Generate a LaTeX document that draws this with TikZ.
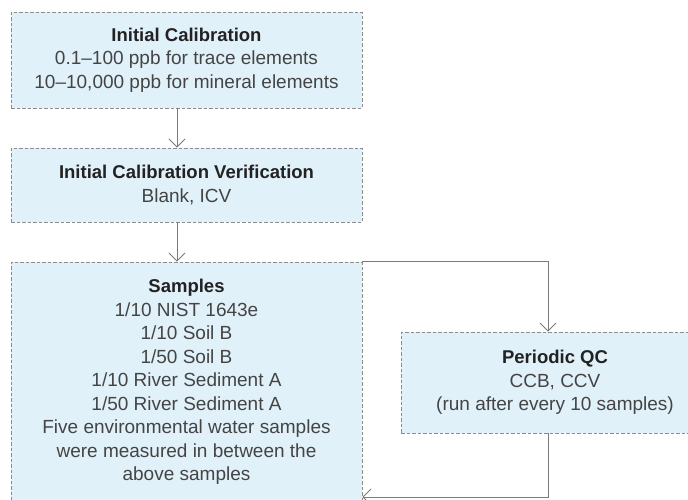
\documentclass[tikz,border=0pt]{standalone}
\usepackage{fontspec}
\setmainfont{Liberation Sans}
\usetikzlibrary{arrows.meta}
\definecolor{boxfill}{HTML}{E1F1FA}
\definecolor{boxline}{HTML}{8C8C8C}
\definecolor{lnk}{HTML}{7A7A7A}
\definecolor{txt}{HTML}{444444}
\definecolor{ttl}{HTML}{222222}
\newcommand{\hdr}[1]{{\color{ttl}\fontsize{18.5}{23.5}\selectfont\bfseries #1}}
\begin{document}
\begin{tikzpicture}[x=1pt,y=-1pt,
  qbox/.style={draw=boxline, fill=boxfill, dash pattern=on 3.5pt off 2pt, line width=0.9pt,
    inner sep=0pt, align=center, text=txt, font=\fontsize{19}{23.5}\selectfont},
  link/.style={draw=lnk, line width=0.9pt, -{Straight Barb[length=8pt,width=16pt,line width=0.9pt]}}]
\useasboundingbox (0,0) rectangle (688,499);
\clip (0,0) rectangle (688,499);
\node[qbox, minimum width=351, minimum height=96] (cal) at (186.5,60)
  {\hdr{Initial Calibration}\\0.1--100 ppb for trace elements\\10--10,000 ppb for mineral elements};
\node[qbox, minimum width=351, minimum height=74] (icv) at (186.5,185)
  {\hdr{Initial Calibration Verification}\\Blank, ICV};
\node[qbox, minimum width=351, minimum height=240] (samp) at (186.5,382)
  {\hdr{Samples}\\1/10 NIST 1643e\\1/10 Soil B\\1/50 Soil B\\1/10 River Sediment A\\1/50 River Sediment A\\Five environmental water samples\\were measured in between the\\above samples};
\node[qbox, minimum width=308, minimum height=101] (qc) at (555,382.5)
  {\hdr{Periodic QC}\\CCB, CCV\\(run after every 10 samples)};
\draw[link] ([xshift=-9.5pt]cal.south) -- ([xshift=-9.5pt]icv.north);
\draw[link] ([xshift=-9.5pt]icv.south) -- ([xshift=-9.5pt]samp.north);
\draw[link] (samp.north east) -| ([xshift=-7pt]qc.north);
\draw[link] ([xshift=-7pt]qc.south) |- (samp.east |- 0,497);
\end{tikzpicture}
\end{document}
